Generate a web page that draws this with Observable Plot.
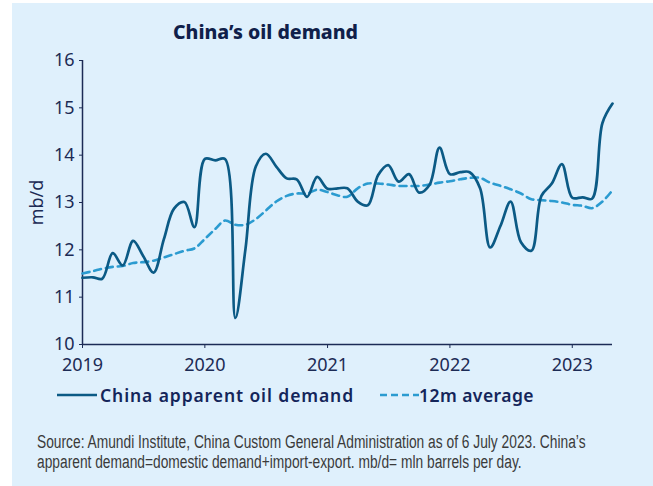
<!DOCTYPE html>
<html>
<head>
<meta charset="utf-8">
<script src="https://cdn.jsdelivr.net/npm/d3@7"></script>
<script src="https://cdn.jsdelivr.net/npm/@observablehq/plot@0.6"></script>
<style>
  html, body { margin: 0; padding: 0; background: #ffffff; width: 653px; height: 486px; overflow: hidden; }
  #panel { position: absolute; left: 12px; top: 3px; width: 641px; height: 483px; background: #dff0fc; }
  #title { position: absolute; left: 0; top: 15px; width: 641px; text-align: center; font-family: "Noto Sans", sans-serif; font-weight: 800; font-size: 19.5px; color: #101f4a; }
  #title span { position: relative; left: -67px; }
  #chart { position: absolute; left: 0; top: 42px; }
  .leg { position: absolute; top: 380px; font-family: "Noto Sans", sans-serif; font-weight: 600; font-size: 17.5px; letter-spacing: 0.45px; color: #14255a; white-space: nowrap; display: flex; align-items: center; }
  .leg svg { margin-right: 3px; }
  #caption { position: absolute; left: 25px; top: 430px; font-family: "Liberation Sans", sans-serif; font-size: 18px; line-height: 19.5px; color: #3a3a3a; transform: scaleX(0.765); transform-origin: 0 0; white-space: nowrap; }
</style>
</head>
<body>
<div id="panel">
  <div id="title"><span>China’s oil demand</span></div>
  <div id="chart"></div>
  <div class="leg" style="left:45px; letter-spacing: 0.9px"><svg width="40" height="10"><line x1="0" y1="5" x2="40" y2="5" stroke="#0b5a85" stroke-width="2.6"/></svg>China apparent oil demand</div>
  <div class="leg" style="left:367px"><svg width="40" height="10" style="margin-right:0"><line x1="1" y1="5" x2="40" y2="5" stroke="#2b9bd0" stroke-width="2.6" stroke-dasharray="7,4"/></svg>12m average</div>
  <div id="caption">Source: Amundi Institute, China Custom General Administration as of 6 July 2023. China’s<br>apparent demand=domestic demand+import-export. mb/d= mln barrels per day.</div>
</div>
<script>
const months = [
  "2019-01","2019-02","2019-03","2019-04","2019-05","2019-06","2019-07","2019-08","2019-09","2019-10","2019-11","2019-12",
  "2020-01","2020-02","2020-03","2020-04","2020-05","2020-06","2020-07","2020-08","2020-09","2020-10","2020-11","2020-12",
  "2021-01","2021-02","2021-03","2021-04","2021-05","2021-06","2021-07","2021-08","2021-09","2021-10","2021-11","2021-12",
  "2022-01","2022-02","2022-03","2022-04","2022-05","2022-06","2022-07","2022-08","2022-09","2022-10","2022-11","2022-12",
  "2023-01","2023-02","2023-03","2023-04","2023-05"
];
const demand = [
  11.41, 11.42, 11.39, 11.93, 11.67, 12.19, 11.87, 11.52, 12.23, 12.87, 13.01, 12.48,
  13.92, 13.89, 13.92, 10.56, 12.01, 13.76, 14.03, 13.76, 13.51, 13.49, 13.12, 13.54,
  13.29, 13.30, 13.30, 13.02, 12.94, 13.58, 13.79, 13.44, 13.60, 13.21, 13.37, 14.16,
  13.60, 13.64, 13.64, 13.30, 12.05, 12.51, 13.02, 12.16, 11.98, 13.14, 13.40, 13.81,
  13.10, 13.11, 13.08, 14.68, 15.09
];
const avg12m = [
  11.50, 11.55, 11.60, 11.64, 11.66, 11.72, 11.74, 11.77, 11.84, 11.91, 11.98, 12.03,
  12.23, 12.44, 12.62, 12.53, 12.53, 12.65, 12.83, 13.02, 13.14, 13.19, 13.19, 13.27,
  13.22, 13.15, 13.12, 13.30, 13.40, 13.40, 13.38, 13.35, 13.35, 13.35, 13.38, 13.42,
  13.45, 13.49, 13.52, 13.52, 13.42, 13.35, 13.28, 13.19, 13.07, 13.05, 13.03, 13.00,
  12.95, 12.93, 12.88, 13.02, 13.26
];
const yTicks = [10, 11, 12, 13, 14, 15, 16];
const xTickLabels = ["2019", "2020", "2021", "2022", "2023"];

const parse = d3.utcParse("%Y-%m");
const rows = months.map((m, i) => ({date: parse(m), demand: demand[i], avg: avg12m[i]}));
const xTicks = xTickLabels.map(y => d3.utcParse("%Y")(y));
const axisColor = "#1c2b55";

const chart = Plot.plot({
  width: 641,
  height: 340,
  marginLeft: 70,
  marginRight: 41,
  marginTop: 15,
  marginBottom: 41,
  style: {background: "transparent", fontFamily: "Noto Sans, sans-serif", fontSize: "18px", color: axisColor},
  x: {type: "utc", domain: [parse(months[0]), parse(months[months.length - 1])]},
  y: {domain: [10, 16]},
  marks: [
    Plot.axisY({ticks: yTicks, tickSize: 3, tickPadding: 5, tickFormat: d3.format("d"), fontSize: 18,
      label: "mb/d", labelAnchor: "center", labelArrow: "none", labelOffset: 52, stroke: axisColor, fill: axisColor}),
    Plot.axisX({ticks: xTicks, tickSize: 4, tickPadding: 10, tickFormat: d3.utcFormat("%Y"), fontSize: 18,
      label: null, stroke: axisColor, fill: axisColor}),
    Plot.ruleX([parse(months[0])], {stroke: axisColor, strokeWidth: 1.5}),
    Plot.ruleY([10], {stroke: axisColor, strokeWidth: 1.5}),
    Plot.line(rows, {x: "date", y: "avg", stroke: "#2b9bd0", strokeWidth: 2.6, strokeDasharray: "7,5", curve: "catmull-rom"}),
    Plot.line(rows, {x: "date", y: "demand", stroke: "#0b5a85", strokeWidth: 2.7, curve: "catmull-rom"})
  ]
});
document.getElementById("chart").appendChild(chart);
</script>
</body>
</html>
